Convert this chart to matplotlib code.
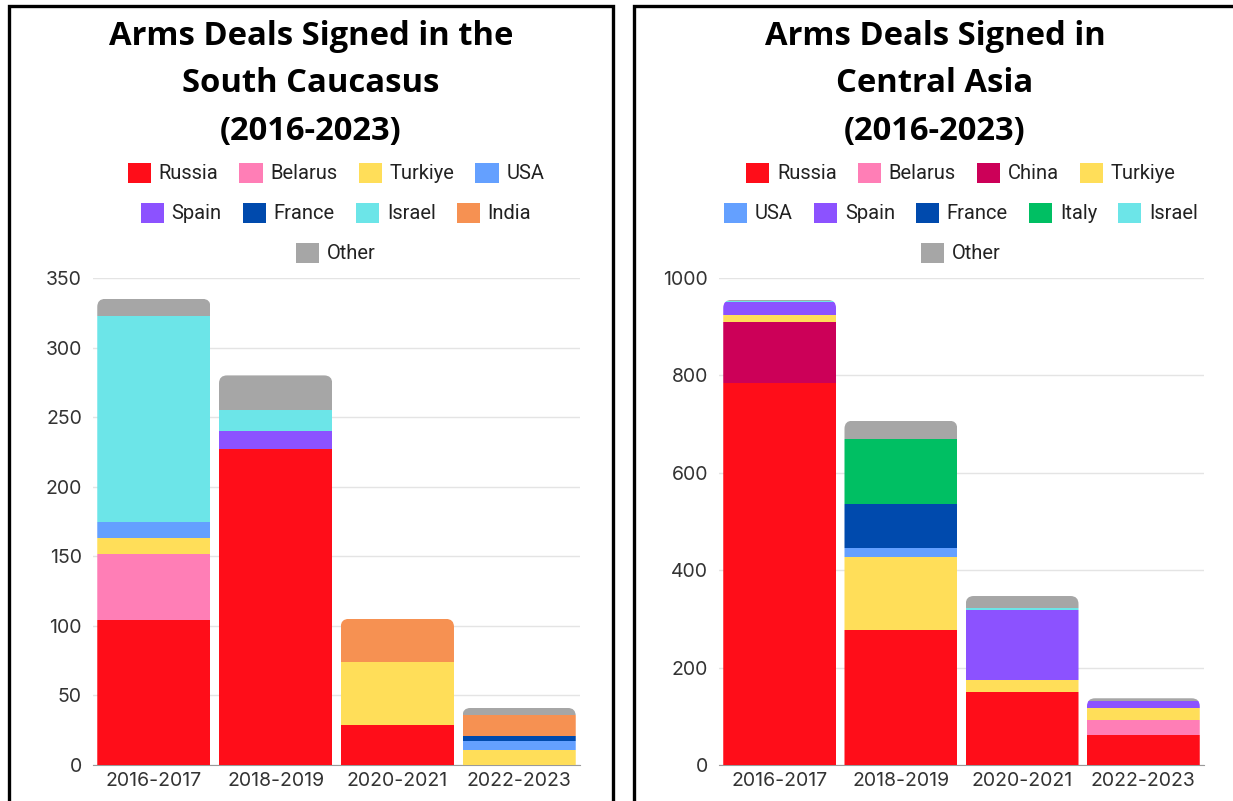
import matplotlib.pyplot as plt
from matplotlib.patches import Patch, Rectangle, FancyBboxPatch
import numpy as np

periods = ["2016-2017", "2018-2019", "2020-2021", "2022-2023"]

# South Caucasus, number of deals per supplier
cau_russia = [104, 227, 29, 0]
cau_belarus = [48, 0, 0, 0]
cau_turkiye = [11, 0, 45, 11]
cau_usa = [12, 0, 0, 6]
cau_spain = [0, 13, 0, 0]
cau_france = [0, 0, 0, 4]
cau_israel = [148, 15, 0, 0]
cau_india = [0, 0, 31, 15]
cau_other = [12, 25, 0, 5]

# Central Asia, number of deals per supplier
ca_russia = [784, 278, 150, 62]
ca_belarus = [0, 0, 0, 31]
ca_china = [125, 0, 0, 0]
ca_turkiye = [15, 149, 24, 25]
ca_usa = [0, 18, 0, 0]
ca_spain = [26, 0, 145, 14]
ca_france = [0, 90, 0, 0]
ca_italy = [0, 134, 0, 0]
ca_israel = [2, 0, 4, 0]
ca_other = [3, 38, 24, 5]

colors = {
    "Russia": "#ff0d19",
    "Belarus": "#ff7eb6",
    "China": "#cc0058",
    "Turkiye": "#ffde59",
    "USA": "#64a0ff",
    "Spain": "#8c52ff",
    "France": "#004aad",
    "Italy": "#00bf63",
    "Israel": "#6ce5e8",
    "India": "#f69152",
    "Other": "#a6a6a6",
}

caucasus = [("Russia", cau_russia), ("Belarus", cau_belarus), ("Turkiye", cau_turkiye),
            ("USA", cau_usa), ("Spain", cau_spain), ("France", cau_france),
            ("Israel", cau_israel), ("India", cau_india), ("Other", cau_other)]
central_asia = [("Russia", ca_russia), ("Belarus", ca_belarus), ("China", ca_china),
                ("Turkiye", ca_turkiye), ("USA", ca_usa), ("Spain", ca_spain),
                ("France", ca_france), ("Italy", ca_italy), ("Israel", ca_israel),
                ("Other", ca_other)]

W, H = 1233, 801
fig = plt.figure(figsize=(W / 100, H / 100), dpi=100)
fig.patch.set_facecolor("white")

TITLE_FONT = "Open Sans"
LEGEND_FONT = "Roboto"
TICK_FONT = "Inter"


def px_axes(x0, x1, y_top, y_bot):
    return fig.add_axes([x0 / W, 1 - y_bot / H, (x1 - x0) / W, (y_bot - y_top) / H])


def draw_panel(ax, series, ymax, step, bar_width=0.93):
    x = np.arange(len(periods))
    ax.set_xlim(-0.5, len(periods) - 0.5)
    ax.set_ylim(0, ymax)
    fig.canvas.draw()
    bb = ax.get_window_extent()
    px_per_x = bb.width / (len(periods))
    px_per_y = bb.height / ymax
    rx = 8 / px_per_x
    aspect = px_per_x / px_per_y

    # rounded top corners for every stacked column
    totals = np.sum([vals for _, vals in series], axis=0)
    clips = []
    for i in range(len(periods)):
        clip = FancyBboxPatch((x[i] - bar_width / 2, -ymax * 0.1), bar_width,
                              totals[i] + ymax * 0.1,
                              boxstyle=f"round,pad=0,rounding_size={rx}",
                              mutation_aspect=aspect, transform=ax.transData)
        clips.append(clip)

    bottom = np.zeros(len(periods))
    for name, vals in series:
        vals = np.array(vals, dtype=float)
        bars = ax.bar(x, vals, bar_width, bottom=bottom, color=colors[name],
                      linewidth=0, zorder=3)
        for i, b in enumerate(bars):
            b.set_clip_path(clips[i])
        bottom += vals

    ax.set_yticks(np.arange(0, ymax + 1, step))
    ax.set_xticks(x)
    ax.set_xticklabels(periods)
    ax.grid(axis="y", color="#e4e4e4", linewidth=1, zorder=0)
    ax.set_axisbelow(True)
    for s in ["top", "right", "left"]:
        ax.spines[s].set_visible(False)
    ax.spines["bottom"].set_color("#9a9a9a")
    ax.spines["bottom"].set_linewidth(0.8)
    ax.tick_params(axis="both", length=0, labelsize=14, labelcolor="#333333")
    ax.tick_params(axis="y", pad=8)
    ax.tick_params(axis="x", pad=5)
    for lab in ax.get_xticklabels() + ax.get_yticklabels():
        lab.set_fontfamily(TICK_FONT)


def draw_legend(names, cx, rows_y):
    idx = 0
    for row_y, count in rows_y:
        row = names[idx:idx + count]
        idx += count
        handles = [Patch(facecolor=colors[n], edgecolor="none") for n in row]
        leg = fig.legend(handles, row, ncol=len(row), loc="center",
                         bbox_to_anchor=(cx / W, 1 - row_y / H), frameon=False,
                         handlelength=1.15, handleheight=1.15, handletextpad=0.38,
                         columnspacing=1.05, borderpad=0,
                         prop={"family": LEGEND_FONT, "size": 14.5})
        for t in leg.get_texts():
            t.set_color("#222222")


# panel frames
fig.add_artist(Rectangle((9 / W, -0.02), 604 / W, 1.02 - 6 / H, transform=fig.transFigure,
                         fill=False, edgecolor="black", linewidth=2.4))
fig.add_artist(Rectangle((634 / W, -0.02), 604 / W, 1.02 - 6 / H, transform=fig.transFigure,
                         fill=False, edgecolor="black", linewidth=2.4))

# left: South Caucasus
ax1 = px_axes(93, 580, 278, 765)
draw_panel(ax1, caucasus, 350, 50)
fig.text(311 / W, 1 - 20 / H, "Arms Deals Signed in the\nSouth Caucasus\n(2016-2023)",
         ha="center", va="top", fontsize=23.6, fontweight="bold", family=TITLE_FONT,
         linespacing=1.58)
draw_legend([n for n, _ in caucasus], 336, [(173, 4), (213, 4), (253, 1)])

# right: Central Asia
ax2 = px_axes(719, 1204, 278, 765)
draw_panel(ax2, central_asia, 1000, 200)
fig.text(935 / W, 1 - 20 / H, "Arms Deals Signed in\nCentral Asia\n(2016-2023)",
         ha="center", va="top", fontsize=23.6, fontweight="bold", family=TITLE_FONT,
         linespacing=1.58)
draw_legend([n for n, _ in central_asia], 961, [(173, 4), (213, 5), (253, 1)])

fig.savefig("out.png", dpi=100)
